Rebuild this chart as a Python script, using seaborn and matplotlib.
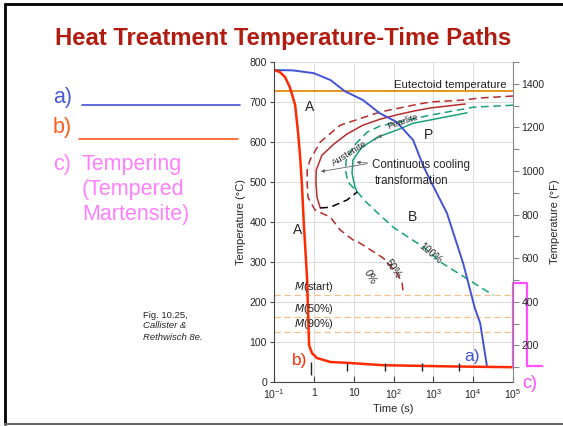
import numpy as np
import pandas as pd
import seaborn as sns
import matplotlib.pyplot as plt
from matplotlib.lines import Line2D

# data: time in seconds, temperature in deg C
blue_t = [0.1, 0.3, 1, 2.6, 6, 17, 45, 120, 310, 550, 830, 2200, 5600, 11000, 15000, 22000]
blue_T = [780, 779, 772, 755, 727, 705, 672, 650, 605, 542, 505, 422, 297, 185, 147, 42]

red_t = [0.1, 0.14, 0.19, 0.25, 0.34, 0.4, 0.45, 0.5, 0.56, 0.68, 0.71, 0.76, 0.9, 1.2, 2.6, 6.7, 55, 2500, 1e5]
red_T = [780, 775, 762, 737, 692, 625, 567, 497, 397, 255, 185, 92, 72, 60, 50, 48, 42, 39, 37]

# tempering step (drawn past the right edge)
temper_t = [1e5, 1e5, 2.3e5, 2.3e5, 5.4e5]
temper_T = [37, 247, 247, 39, 39]

# CCT / TTT curves
red_solid_t = [1.45, 1.2, 1.13, 1.15, 1.6, 3.2, 6.8, 17, 46, 123, 310, 830, 6300]
red_solid_T = [435, 462, 500, 530, 567, 595, 620, 642, 657, 668, 677, 685, 695]

red_dash_t = [1e5, 15000, 5600, 830, 310, 46, 4.6, 1.45, 0.8, 0.68, 0.68, 0.71, 1.07, 2.6, 4.6, 9.7, 14.5, 55, 123, 165, 175]
red_dash_T = [715, 710, 705, 700, 692, 675, 642, 600, 555, 530, 497, 462, 430, 412, 380, 355, 347, 310, 272, 247, 222]

black_dash_t = [1.45, 2.6, 6.8, 12.3]
black_dash_T = [435, 437, 455, 475]

green_dash_t = [1e5, 1e4, 830, 46, 22, 10, 6.5, 6.2, 7.2, 12.3, 22, 46, 98, 300, 560, 1500, 4200, 32000]
green_dash_T = [692, 687, 667, 640, 625, 590, 555, 530, 500, 475, 447, 417, 387, 355, 338, 300, 272, 217]

green_solid_t = [12.3, 10.8, 9.1, 9.6, 16, 26, 39, 123, 310, 830, 7000]
green_solid_T = [475, 487, 522, 555, 587, 600, 612, 630, 647, 655, 673]

eutectoid_T = 727
m_levels = [217, 162, 124]
m_labels = ['$\\it{M}$(start)', '$\\it{M}$(50%)', '$\\it{M}$(90%)']

mark_t = [0.85, 6.8, 62, 520, 4500]
mark_lo = [17, 27, 27, 27, 27]
mark_hi = [50, 47, 47, 47, 47]

xtick_vals = [0.1, 1, 10, 100, 1000, 1e4, 1e5]
xtick_labels = ['$10^{-1}$', '1', '10', '$10^{2}$', '$10^{3}$', '$10^{4}$', '$10^{5}$']

sns.set_theme(style='whitegrid')
plt.rcParams['font.family'] = ['Liberation Sans', 'DejaVu Sans']
plt.rcParams['mathtext.default'] = 'regular'

W, H = 563, 426
fig = plt.figure(figsize=(W / 100, H / 100), dpi=100)
fig.patch.set_facecolor('white')


def fxy(x, y):
    return (x / W, 1 - y / H)


ax = fig.add_axes([274 / W, 44 / H, 239 / W, 320 / H])
ax.set_xscale('log')
ax.set_xlim(0.1, 1e5)
ax.set_ylim(0, 800)
ax.grid(True, color='#dddddd', lw=0.8)
ax.set_axisbelow(True)

# reference lines
ax.axhline(eutectoid_T, color='#e08a10', lw=1.3, zorder=2)
for m in m_levels:
    ax.axhline(m, color='#f5c088', lw=0.9, ls=(0, (5, 3)), zorder=2)

dk_red = '#b42c2c'
green = '#17a07c'
sns.lineplot(x=red_dash_t, y=red_dash_T, sort=False, estimator=None, color=dk_red,
             lw=1.1, ls=(0, (5, 3)), ax=ax)
sns.lineplot(x=red_solid_t, y=red_solid_T, sort=False, estimator=None, color=dk_red, lw=1.1, ax=ax)
sns.lineplot(x=green_dash_t, y=green_dash_T, sort=False, estimator=None, color=green,
             lw=1.1, ls=(0, (5, 3)), ax=ax)
sns.lineplot(x=green_solid_t, y=green_solid_T, sort=False, estimator=None, color=green, lw=1.1, ax=ax)
sns.lineplot(x=black_dash_t, y=black_dash_T, sort=False, estimator=None, color='black',
             lw=1.1, ls=(0, (5, 3)), ax=ax)

# cooling paths
sns.lineplot(x=blue_t, y=blue_T, sort=False, estimator=None, color='#4353d6', lw=1.4, ax=ax)
sns.lineplot(x=red_t, y=red_T, sort=False, estimator=None, color='#ff2a00', lw=1.8, ax=ax)
sns.lineplot(x=temper_t, y=temper_T, sort=False, estimator=None, color='#ff4dff', lw=1.6,
             clip_on=False, ax=ax)
ax.vlines(mark_t, mark_lo, mark_hi, color='#222222', lw=1.0, zorder=4)

# annotations
ax.text(7e4, 731, 'Eutectoid temperature', ha='right', va='bottom', fontsize=8.2, color='#222222')
for m, lab in zip(m_levels, m_labels):
    ax.text(0.32, m + 4, lab, ha='left', va='bottom', fontsize=7.8, color='#222222')
ax.text(0.8, 687, 'A', fontsize=10, ha='center', va='center')
ax.text(740, 617, 'P', fontsize=10, ha='center', va='center')
ax.text(295, 412, 'B', fontsize=10, ha='center', va='center')
ax.text(0.4, 380, 'A', fontsize=10, ha='center', va='center')
ax.text(26, 262, '0%', fontsize=7.5, rotation=-60, ha='center', va='center')
ax.text(98, 282, '50%', fontsize=7.5, rotation=-55, ha='center', va='center')
ax.text(830, 322, '100%', fontsize=7.5, rotation=-40, ha='center', va='center')
ax.text(8.1, 572, 'Austenite', fontsize=6.8, rotation=32, ha='center', va='center')
ax.text(170, 652, 'Pearlite', fontsize=6.8, rotation=18, ha='center', va='center')
ax.annotate('', xy=(62, 622), xytext=(28, 600),
            arrowprops=dict(arrowstyle='-|>', color='#666666', lw=0.6, mutation_scale=5))
ax.text(29, 542, 'Continuous cooling', fontsize=8.3, ha='left', va='center')
ax.text(34, 502, 'transformation', fontsize=8.3, ha='left', va='center')
for tgt in [(1.28, 525), (10, 550)]:
    ax.annotate('', xy=tgt, xytext=(26, 547),
                arrowprops=dict(arrowstyle='-|>', color='#666666', lw=0.6, mutation_scale=5))
ax.text(9400, 65, 'a)', fontsize=12.5, color='#4353d6', ha='center', va='center')
ax.text(0.45, 55, 'b)', fontsize=12.5, color='#ff2a00', ha='center', va='center')

ax.set_xticks(xtick_vals)
ax.set_xticklabels(xtick_labels)
ax.xaxis.set_minor_locator(plt.NullLocator())
ax.set_yticks(range(0, 801, 100))
ax.tick_params(axis='x', direction='in', length=4, width=0.8, color='#444444',
               labelsize=7.5, pad=4, bottom=True)
ax.tick_params(axis='y', direction='out', length=3, width=0.8, color='#444444',
               labelsize=7.5, pad=2, left=True)
ax.set_xlabel('Time (s)', fontsize=8, labelpad=2)
ax.set_ylabel('Temperature (°C)', fontsize=8, labelpad=3)
for s in ['left', 'bottom']:
    ax.spines[s].set_color('#444444')
    ax.spines[s].set_linewidth(0.8)
ax.spines['top'].set_visible(False)
ax.spines['right'].set_visible(False)

ax2 = ax.twinx()
ax2.set_ylim(32, 800 * 9 / 5 + 32)
ax2.set_yticks(range(200, 1401, 200))
ax2.set_yticks(range(100, 1501, 100), minor=True)
ax2.grid(False)
ax2.tick_params(axis='y', which='both', direction='out', length=4, width=0.8,
                color='#888888', labelsize=7.5, pad=2, right=True)
ax2.set_ylabel('Temperature (°F)', fontsize=8, labelpad=4)
for s in ['left', 'bottom', 'top']:
    ax2.spines[s].set_visible(False)
ax2.spines['right'].set_color('#888888')
ax2.spines['right'].set_linewidth(0.8)

# slide elements
fig.text(*fxy(283, 38), 'Heat Treatment Temperature-Time Paths', fontsize=17.2,
         fontweight='bold', color='#b01c10', ha='center', va='center')
fig.text(*fxy(53, 97), 'a)', fontsize=15.5, color='#4a5ad8', ha='left', va='center')
fig.text(*fxy(53, 128), 'b)', fontsize=15.5, color='#ff5a1a', ha='left', va='center')
fig.text(*fxy(53, 165), 'c)', fontsize=15.5, color='#ff80ff', ha='left', va='center')
fig.text(*fxy(82, 165), 'Tempering', fontsize=15.5, color='#ff80ff', ha='left', va='center')
fig.text(*fxy(82, 190), '(Tempered', fontsize=15.5, color='#ff80ff', ha='left', va='center')
fig.text(*fxy(82, 215), 'Martensite)', fontsize=15.5, color='#ff80ff', ha='left', va='center')
fig.text(*fxy(530, 384), 'c)', fontsize=13, color='#ff4dff', ha='center', va='center')
fig.add_artist(Line2D([82 / W, 240 / W], [1 - 105 / H] * 2, color='#4353d6', lw=1.2))
fig.add_artist(Line2D([79 / W, 238 / W], [1 - 139 / H] * 2, color='#ff5a1a', lw=1.2))
fig.text(*fxy(143, 315), 'Fig. 10.25,', fontsize=6.8, ha='left', va='center')
fig.text(*fxy(143, 326), 'Callister &', fontsize=6.8, style='italic', ha='left', va='center')
fig.text(*fxy(143, 337), 'Rethwisch 8e.', fontsize=6.8, style='italic', ha='left', va='center')

# frame
fig.add_artist(Line2D([5 / W, 5 / W], [1 - 4 / H, 1 - 424 / H], color='black', lw=2))
fig.add_artist(Line2D([5 / W, 1], [1 - 4 / H] * 2, color='black', lw=2))
fig.add_artist(Line2D([5 / W, 1], [1 - 424 / H] * 2, color='#666666', lw=1.5))

fig.savefig('out.png', dpi=100)
